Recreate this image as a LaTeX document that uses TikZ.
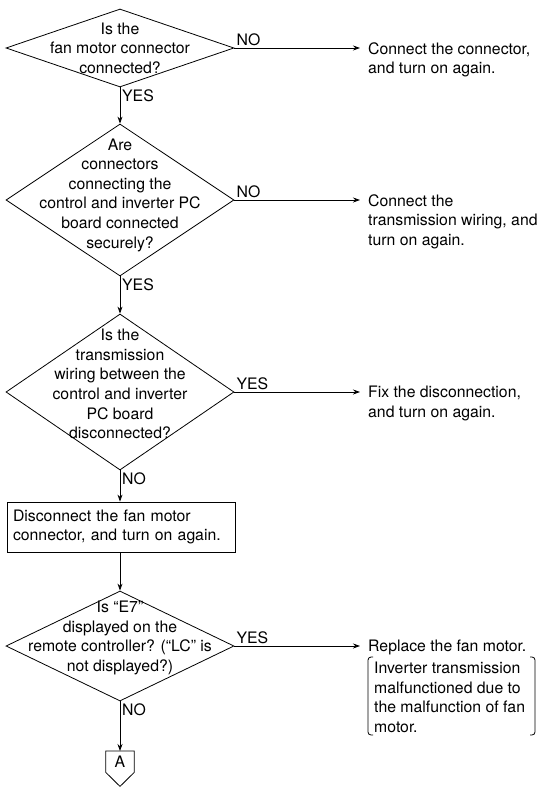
\documentclass[tikz,border=0pt]{standalone}
\usepackage{fontspec}
\setmainfont{TeX Gyre Heros}
\usetikzlibrary{shapes.geometric,arrows.meta}
\begin{document}
\begin{tikzpicture}[x=1pt,y=-1pt,
  every node/.style={font=\fontsize{15.8}{19.6}\selectfont, inner sep=0pt},
  decision/.style={draw, shape=diamond, minimum width=228pt, line width=0.8pt},
  question/.style={align=center},
  action/.style={anchor=north west, align=left, inner xsep=8pt},
  flowbox/.style={draw, line width=0.8pt, text width=216pt, inner xsep=6pt,
    align=left, minimum height=50pt},
  answer/.style={inner sep=2pt},
  flow/.style={line width=0.8pt, -{Stealth[length=7pt,width=5pt]}},
  bracket/.style={line width=0.8pt, rounded corners=3pt},
]
\useasboundingbox (0,0) rectangle (541,787);

% --- check 1: fan motor connector
\node[decision, minimum height=78pt] (d1) at (120,48) {};
\node[question] (q1) at (d1.center) {Is the\\fan motor connector\\connected?};
\node[action] (r1) at (360,42) {Connect the connector,\\and turn on again.};
\draw[flow] (d1.east) -- (r1.west |- d1.east);
\node[answer, anchor=south west] (a1) at (d1.east) {NO};
\node[answer, anchor=north west] (a1y) at (d1.south) {YES};

% --- check 2: connectors between control and inverter PC boards
\node[decision, minimum height=152pt] (d2) at (120,200) {};
\node[question] (q2) at (120,195) {Are\\connectors\\connecting the\\control and inverter PC\\board connected\\securely?};
\node[action] (r2) at (360,194) {Connect the\\transmission wiring, and\\turn on again.};
\draw[flow] (d1.south) -- (d2.north);
\draw[flow] (d2.east) -- (r2.west |- d2.east);
\node[answer, anchor=south west] (a2) at (d2.east) {NO};
\node[answer, anchor=north west] (a2y) at (d2.south) {YES};

% --- check 3: transmission wiring
\node[decision, minimum height=156pt] (d3) at (120,392) {};
\node[question] (q3) at (120,384) {Is the\\transmission\\wiring between the\\control and inverter\\PC board\\disconnected?};
\node[action] (r3) at (360,386) {Fix the disconnection,\\and turn on again.};
\draw[flow] (d2.south) -- (d3.north);
\draw[flow] (d3.east) -- (r3.west |- d3.east);
\node[answer, anchor=south west] (a3) at (d3.east) {YES};
\node[answer, anchor=north west] (a3n) at (d3.south) {NO};

% --- action box
\node[flowbox] (b1) at (121,527) {Disconnect the fan motor\\connector, and turn on again.};
\draw[flow] (d3.south) -- (b1.north -| d3.south);

% --- check 4: E7 on the remote controller
\node[decision, minimum height=110pt] (d4) at (120,646) {};
\node[question] (q4) at (120,638) {Is “E7”\\displayed on the\\remote controller? (“LC” is\\not displayed?)};
\node[action] (r4) at (360,640) {Replace the fan motor.};
\draw[flow] (b1.south -| d4.north) -- (d4.north);
\draw[flow] (d4.east) -- (r4.west |- d4.east);
\node[answer, anchor=south west] (a4) at (d4.east) {YES};
\node[answer, anchor=north west] (a4n) at (d4.south) {NO};

% remark in brackets
\node[anchor=north west, align=left] (n4) at (374,662) {Inverter transmission\\malfunctioned due to\\the malfunction of fan\\motor.};
\draw[bracket] (373,657) -- (368,657) -- (368,735) -- (373,735);
\draw[bracket] (530,657) -- (535,657) -- (535,735) -- (530,735);

% --- off-page connector A
\node[minimum width=28pt, minimum height=21pt, anchor=north] (A) at (120,751) {A};
\draw[line width=0.8pt] (A.north west) -- (A.south west) -- ([yshift=-14pt]A.south)
  -- (A.south east) -- (A.north east) -- cycle;
\draw[flow] (d4.south) -- (A.north);
\end{tikzpicture}
\end{document}
